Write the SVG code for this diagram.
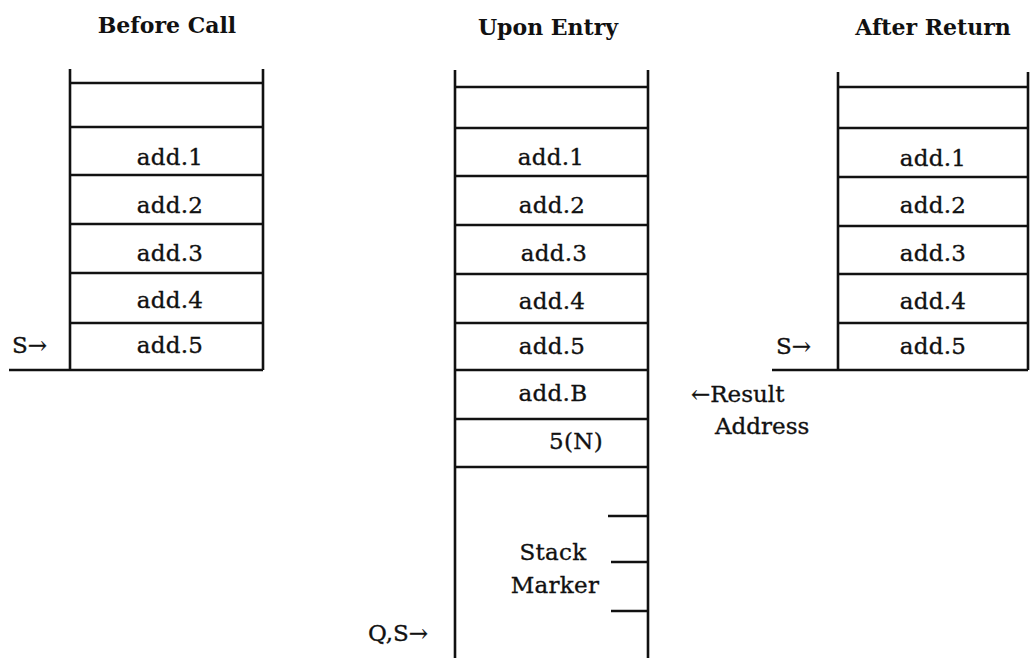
<svg xmlns="http://www.w3.org/2000/svg" width="1032" height="658" viewBox="0 0 1032 658">
  <style>
    .title { font-family: "DejaVu Serif", "Liberation Serif", serif; font-weight: bold; font-size: 22px; fill: #111; text-anchor: middle; }
    .cell { font-family: "DejaVu Serif", "Liberation Serif", serif; font-size: 23px; fill: #111; stroke: #111; stroke-width: 0.35; text-anchor: middle; letter-spacing: 0.3px; }
    .lbl { font-family: "DejaVu Serif", "Liberation Serif", serif; font-size: 23px; fill: #111; stroke: #111; stroke-width: 0.35; }
    .ln { stroke: #111; stroke-width: 2.6; fill: none; }
  </style>
  <rect width="1032" height="658" fill="#fff"/>

  <!-- Column headings -->
  <text class="title" x="167" y="33">Before Call</text>
  <text class="title" x="548" y="35">Upon Entry</text>
  <text class="title" x="933" y="35">After Return</text>

  <!-- Stack before the call -->
  <g id="stack-before">
    <path class="ln" d="M70 69 V370 M263 69 V370 M9 370 H263"/>
    <path class="ln" d="M70 83 H263 M70 127 H263 M70 175 H263 M70 224 H263 M70 273 H263 M70 323 H263"/>
    <g id="before-add1"><text class="cell" x="170" y="165">add.1</text></g>
    <g id="before-add2"><text class="cell" x="170" y="213">add.2</text></g>
    <g id="before-add3"><text class="cell" x="170" y="261">add.3</text></g>
    <g id="before-add4"><text class="cell" x="170" y="308">add.4</text></g>
    <g id="before-add5"><text class="cell" x="170" y="353">add.5</text></g>
    <text class="lbl" x="12" y="353">S→</text>
  </g>

  <!-- Stack upon entry -->
  <g id="stack-entry">
    <path class="ln" d="M455 70 V658 M648 70 V658"/>
    <path class="ln" d="M455 87 H648 M455 128 H648 M455 176 H648 M455 225 H648 M455 274 H648 M455 323 H648 M455 370 H648 M455 419 H648 M455 467 H648"/>
    <g id="entry-add1"><text class="cell" x="551" y="165">add.1</text></g>
    <g id="entry-add2"><text class="cell" x="552" y="213">add.2</text></g>
    <g id="entry-add3"><text class="cell" x="554" y="261">add.3</text></g>
    <g id="entry-add4"><text class="cell" x="552" y="309">add.4</text></g>
    <g id="entry-add5"><text class="cell" x="552" y="354">add.5</text></g>
    <g id="entry-addB"><text class="cell" x="553" y="401">add.B</text></g>
    <g id="entry-n"><text class="cell" x="576" y="449">5(N)</text></g>
    <g id="entry-marker">
      <path class="ln" d="M608 516 H648 M611 562 H648 M611 611 H648"/>
      <text class="cell" x="553" y="560">Stack</text>
      <text class="cell" x="555" y="593">Marker</text>
    </g>
    <text class="lbl" x="368" y="641">Q,S→</text>
    <g id="result-address">
      <text class="lbl" x="691" y="402">←Result</text>
      <text class="lbl" x="715" y="434">Address</text>
    </g>
  </g>

  <!-- Stack after the return -->
  <g id="stack-after">
    <path class="ln" d="M838 72 V370 M1028 72 V370 M772 370 H1028"/>
    <path class="ln" d="M838 87 H1028 M838 128 H1028 M838 177 H1028 M838 226 H1028 M838 274 H1028 M838 323 H1028"/>
    <g id="after-add1"><text class="cell" x="933" y="166">add.1</text></g>
    <g id="after-add2"><text class="cell" x="933" y="213">add.2</text></g>
    <g id="after-add3"><text class="cell" x="933" y="261">add.3</text></g>
    <g id="after-add4"><text class="cell" x="933" y="309">add.4</text></g>
    <g id="after-add5"><text class="cell" x="933" y="354">add.5</text></g>
    <text class="lbl" x="776" y="354">S→</text>
  </g>
</svg>
